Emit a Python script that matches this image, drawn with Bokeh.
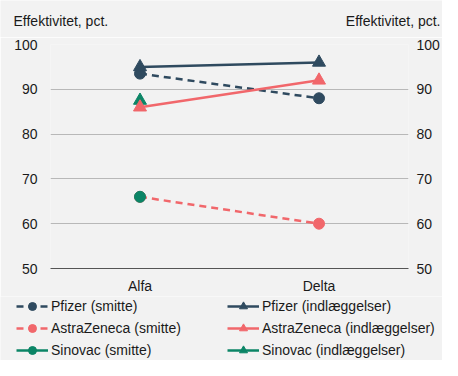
from bokeh.plotting import figure
from bokeh.models import (FactorRange, Range1d, LinearAxis, FixedTicker, Legend,
                          LegendItem)
from bokeh.core.properties import value
from bokeh.embed import file_html
from bokeh.resources import INLINE

variants = ["Alfa", "Delta"]
pfizer_smitte = [93.5, 88]
pfizer_indl = [95, 96]
az_smitte = [66, 60]
az_indl = [86, 92]
sinovac_smitte = [66, float("nan")]
sinovac_indl = [87.5, float("nan")]
y_ticks = [50, 60, 70, 80, 90, 100]
axis_title = "Effektivitet, pct."

NAVY = "#2f4a5f"
RED = "#f1676b"
GREEN = "#0b8566"
BG = "#f2f2f2"
TXT = "#1a1a1a"
FONT = "Liberation Sans"
FS = "14px"
W = 442


def bare(height, xr, yr):
    fig = figure(width=W, height=height, x_range=xr, y_range=yr,
                 output_backend="svg", toolbar_location=None, min_border=0,
                 x_axis_location=None, y_axis_location=None)
    fig.grid.visible = False
    fig.outline_line_color = None
    fig.background_fill_color = BG
    fig.border_fill_color = BG
    return fig


# header: the two axis titles
h = bare(37, Range1d(0, W), Range1d(37, 0))
h.text(x=[13, W - 2], y=[20, 20], text=[axis_title, axis_title],
       text_align=["left", "right"], text_baseline="middle",
       text_font=value(FONT), text_font_size=FS, text_color=TXT)

# main chart
p = figure(width=W, height=259, x_range=FactorRange(*variants),
           y_range=Range1d(50, 100), output_backend="svg", toolbar_location=None,
           min_border_left=50, min_border_right=32, min_border_top=7,
           min_border_bottom=0)
p.background_fill_color = BG
p.border_fill_color = BG
p.outline_line_color = None

p.xgrid.grid_line_color = None
p.ygrid.ticker = FixedTicker(ticks=y_ticks)
p.ygrid.grid_line_color = "#b8b8b8"
p.ygrid.grid_line_width = 1

p.yaxis[0].ticker = FixedTicker(ticks=y_ticks)
r_axis = LinearAxis(ticker=FixedTicker(ticks=y_ticks))
p.add_layout(r_axis, "right")
for ax in [p.yaxis[0], r_axis]:
    ax.axis_line_color = None
    ax.major_tick_line_color = None
    ax.minor_tick_line_color = None
    ax.major_tick_out = 0
    ax.major_tick_in = 0
    ax.major_label_text_font = FONT
    ax.major_label_text_font_size = FS
    ax.major_label_text_color = TXT
p.yaxis[0].major_label_standoff = 13
r_axis.major_label_standoff = 8

xa = p.xaxis[0]
xa.axis_line_color = "#555555"
xa.major_tick_line_color = None
xa.minor_tick_line_color = None
xa.major_tick_out = 0
xa.major_tick_in = 0
xa.major_label_text_font = FONT
xa.major_label_text_font_size = FS
xa.major_label_text_color = TXT
xa.major_label_standoff = 9

LW = 2.5
DASH = "7 5"
styles = dict(
    ps=(NAVY, DASH, "circle", 11),
    pi=(NAVY, "solid", "triangle", 13),
    as_=(RED, DASH, "circle", 11),
    ai=(RED, "solid", "triangle", 13),
    ss=(GREEN, "solid", "circle", 11),
    si=(GREEN, "solid", "triangle", 13),
)
series = dict(ps=pfizer_smitte, pi=pfizer_indl, as_=az_smitte, ai=az_indl,
              ss=sinovac_smitte, si=sinovac_indl)
for key in ["ps", "pi", "si", "ai", "as_", "ss"]:
    col, dash, mk, sz = styles[key]
    p.line(variants, series[key], color=col, line_width=LW, line_dash=dash)
    p.scatter(variants, series[key], marker=mk, size=sz, color=col)

# footer: legend
f = bare(64, Range1d(0, 1), Range1d(0, 1))
labels = dict(ps="Pfizer (smitte)", as_="AstraZeneca (smitte)",
              ss="Sinovac (smitte)", pi="Pfizer (indlæggelser)",
              ai="AstraZeneca (indlæggelser)", si="Sinovac (indlæggelser)")
items = []
for key in ["ps", "as_", "ss", "pi", "ai", "si"]:
    col, dash, mk, sz = styles[key]
    rl = f.line([float("nan")], [float("nan")], color=col, line_width=LW,
                line_dash=dash)
    rm = f.scatter([float("nan")], [float("nan")], marker=mk, size=sz, color=col)
    items.append(LegendItem(label=labels[key], renderers=[rl, rm]))

legend = Legend(items=items, orientation="vertical", nrows=3, location=(16, 0))
legend.label_text_font = FONT
legend.label_text_font_size = FS
legend.label_text_color = TXT
legend.glyph_width = 32
legend.glyph_height = 20
legend.label_height = 20
legend.label_width = 174
legend.label_standoff = 3
legend.spacing = 2
legend.padding = 0
legend.margin = 0
legend.background_fill_alpha = 0
legend.border_line_alpha = 0
f.add_layout(legend, "center")

open("out.html", "w").write(file_html([h, p, f], INLINE))
